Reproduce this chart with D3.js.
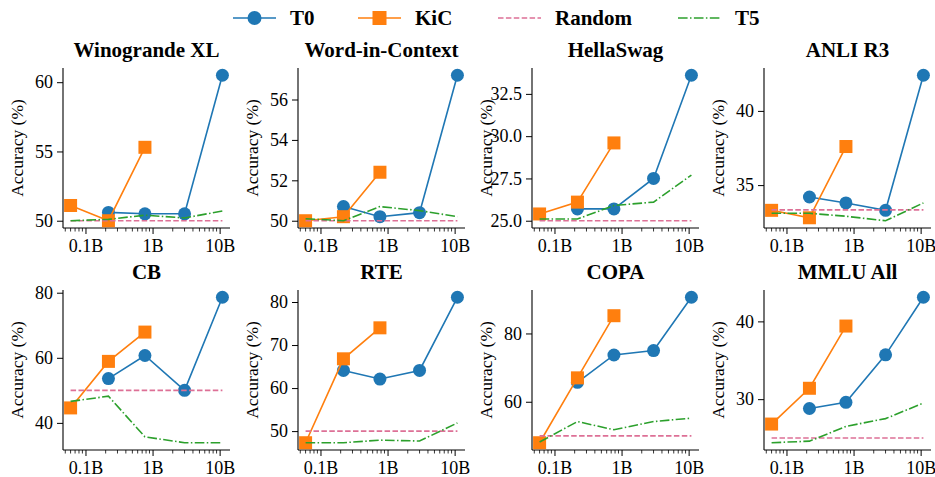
<!DOCTYPE html>
<html lang="en">
<head>
  <meta charset="UTF-8">
  <title>Accuracy vs model size</title>
  <script src="https://d3js.org/d3.v7.min.js"></script>
  <style>
    body { margin: 0; background: #fff; }
    svg text { font-family: "Liberation Serif", "Times New Roman", Times, "DejaVu Serif", serif; fill: #000; }
  </style>
</head>
<body>
  <svg id="chart"></svg>
  <script>
    // model sizes in billions of parameters
    const sizes = [0.06, 0.22, 0.77, 3, 11];
    const tasks = ["Winogrande XL", "Word-in-Context", "HellaSwag", "ANLI R3",
                   "CB", "RTE", "COPA", "MMLU All"];

    // T0 has no 0.06B model -> null
    const t0Scores = [
      [null, 50.6, 50.5, 50.5, 60.5],
      [null, 50.7, 50.2, 50.4, 57.2],
      [null, 25.7, 25.7, 27.5, 33.6],
      [null, 34.2, 33.8, 33.3, 42.4],
      [null, 53.6, 60.7, 50.0, 78.6],
      [null, 64.1, 62.1, 64.1, 81.1],
      [null, 65.7, 73.7, 75.0, 90.6],
      [null, 28.8, 29.6, 35.7, 43.1]
    ];
    const kicScores = [
      [51.1, 50.0, 55.3],
      [50.0, 50.2, 52.4],
      [25.4, 26.1, 29.6],
      [33.3, 32.8, 37.6],
      [44.6, 58.9, 67.9],
      [47.3, 66.8, 74.0],
      [48.0, 67.0, 85.2],
      [26.8, 31.4, 39.4]
    ];
    const t5Scores = [
      [50.0, 50.1, 50.4, 50.2, 50.7],
      [50.1, 50.0, 50.7, 50.5, 50.2],
      [25.1, 25.1, 25.9, 26.1, 27.7],
      [33.1, 33.1, 32.9, 32.6, 33.8],
      [46.6, 48.2, 35.7, 33.9, 33.9],
      [47.3, 47.3, 47.9, 47.7, 51.9],
      [48.2, 54.2, 51.8, 54.2, 55.2],
      [24.4, 24.6, 26.5, 27.5, 29.5]
    ];
    const randomScores = [50, 50, 25, 33.33, 50, 50, 50, 25];

    const yTicks = [
      [50, 55, 60],
      [50, 52, 54, 56],
      [25, 27.5, 30, 32.5],
      [35, 40],
      [40, 60, 80],
      [50, 60, 70, 80],
      [60, 80],
      [30, 40]
    ];
    const xTicks = [0.1, 1, 10];
    const xTickLabels = ["0.1B", "1B", "10B"];

    const colors = { t0: "#1f77b4", kic: "#ff7f0e", random: "#dd7096", t5: "#2ca02c" };
    const serif = "'Liberation Serif', 'Times New Roman', Times, 'DejaVu Serif', serif";

    const W = 935, H = 477;
    const colLeft = [63, 298, 532, 764];
    const rowTop = [68, 290];
    const pw = 167, ph = 160;

    const svg = d3.select("#chart").attr("width", W).attr("height", H)
      .attr("font-family", serif);

    // matplotlib style 5% margins in log space
    const lx = d3.extent(sizes).map(Math.log10);
    const padX = (lx[1] - lx[0]) * 0.05;
    const xDomain = [Math.pow(10, lx[0] - padX), Math.pow(10, lx[1] + padX)];

    const minorTicks = [];
    for (let e = -2; e <= 1; e++) {
      for (let m = 2; m <= 9; m++) {
        const v = m * Math.pow(10, e);
        if (v >= xDomain[0] && v <= xDomain[1]) minorTicks.push(v);
      }
    }

    tasks.forEach((task, i) => {
      const col = i % 4, row = Math.floor(i / 4);
      const g = svg.append("g")
        .attr("transform", `translate(${colLeft[col]},${rowTop[row]})`);

      const x = d3.scaleLog().domain(xDomain).range([0, pw]);

      const allVals = [...t0Scores[i], ...kicScores[i], ...t5Scores[i], randomScores[i]]
        .filter(v => v != null);
      const [lo, hi] = d3.extent(allVals);
      const padY = (hi - lo) * 0.05;
      const y = d3.scaleLinear().domain([lo - padY, hi + padY]).range([ph, 0]);

      // axes
      const decimals = yTicks[i].some(v => !Number.isInteger(v)) ? ".1f" : "d";
      const yAxis = d3.axisLeft(y).tickValues(yTicks[i])
        .tickFormat(d3.format(decimals)).tickSize(6).tickPadding(4);
      const yg = g.append("g").call(yAxis);
      yg.select(".domain").attr("d", `M0,0V${ph}`);

      const xAxis = d3.axisBottom(x).tickValues(xTicks)
        .tickFormat((d, k) => xTickLabels[k]).tickSize(6).tickPadding(5);
      const xg = g.append("g").attr("transform", `translate(0,${ph})`).call(xAxis);
      xg.select(".domain").attr("d", `M0,0H${pw}`);

      g.append("g").attr("transform", `translate(0,${ph})`)
        .selectAll("line").data(minorTicks).join("line")
        .attr("x1", d => x(d)).attr("x2", d => x(d))
        .attr("y1", 0).attr("y2", 3.5)
        .attr("stroke", "#000").attr("stroke-width", 0.8);

      g.selectAll("g").attr("font-family", serif);
      g.selectAll(".domain").attr("stroke", "#000").attr("stroke-width", 1.1);
      g.selectAll(".tick line").attr("stroke", "#000").attr("stroke-width", 1);
      g.selectAll(".tick text").attr("font-size", 18);

      // labels
      g.append("text")
        .attr("x", pw / 2).attr("y", -11)
        .attr("text-anchor", "middle")
        .attr("font-size", 21).attr("font-weight", "bold")
        .text(task);
      g.append("text")
        .attr("transform", `translate(${-44},${ph / 2}) rotate(-90)`)
        .attr("text-anchor", "middle")
        .attr("dominant-baseline", "middle")
        .attr("font-size", 17.5)
        .text("Accuracy (%)");

      const line = d3.line()
        .x(d => x(d[0])).y(d => y(d[1]));

      // T0
      const t0 = sizes.map((s, k) => [s, t0Scores[i][k]]).filter(d => d[1] != null);
      g.append("path").datum(t0).attr("d", line)
        .attr("fill", "none").attr("stroke", colors.t0).attr("stroke-width", 1.6);
      g.selectAll(".t0pt").data(t0).join("circle")
        .attr("cx", d => x(d[0])).attr("cy", d => y(d[1])).attr("r", 6.5)
        .attr("fill", colors.t0);

      // KiC
      const kic = kicScores[i].map((v, k) => [sizes[k], v]);
      g.append("path").datum(kic).attr("d", line)
        .attr("fill", "none").attr("stroke", colors.kic).attr("stroke-width", 1.6);
      g.selectAll(".kicpt").data(kic).join("rect")
        .attr("x", d => x(d[0]) - 6.5).attr("y", d => y(d[1]) - 6.5)
        .attr("width", 13).attr("height", 13)
        .attr("fill", colors.kic);

      // Random
      g.append("line")
        .attr("x1", x(sizes[0])).attr("x2", x(sizes[sizes.length - 1]))
        .attr("y1", y(randomScores[i])).attr("y2", y(randomScores[i]))
        .attr("stroke", colors.random).attr("stroke-width", 1.6)
        .attr("stroke-dasharray", "5.5,2.4");

      // T5
      const t5 = t5Scores[i].map((v, k) => [sizes[k], v]);
      g.append("path").datum(t5).attr("d", line)
        .attr("fill", "none").attr("stroke", colors.t5).attr("stroke-width", 1.6)
        .attr("stroke-dasharray", "9.6,2.4,1.5,2.4");
    });

    // legend
    const legendItems = [
      { name: "T0", color: colors.t0, x: 233, marker: "circle", dash: null },
      { name: "KiC", color: colors.kic, x: 358, marker: "square", dash: null },
      { name: "Random", color: colors.random, x: 498, marker: null, dash: "5.5,2.4" },
      { name: "T5", color: colors.t5, x: 678, marker: null, dash: "9.6,2.4,1.5,2.4" }
    ];
    const ly = 18;
    const leg = svg.append("g");
    legendItems.forEach(it => {
      leg.append("line")
        .attr("x1", it.x).attr("x2", it.x + 43).attr("y1", ly).attr("y2", ly)
        .attr("stroke", it.color).attr("stroke-width", 1.6)
        .attr("stroke-dasharray", it.dash);
      if (it.marker === "circle") {
        leg.append("circle").attr("cx", it.x + 21.5).attr("cy", ly).attr("r", 7)
          .attr("fill", it.color);
      } else if (it.marker === "square") {
        leg.append("rect").attr("x", it.x + 21.5 - 7).attr("y", ly - 7)
          .attr("width", 14).attr("height", 14).attr("fill", it.color);
      }
      leg.append("text")
        .attr("x", it.x + 57).attr("y", ly + 7)
        .attr("font-size", 21).attr("font-weight", "bold")
        .text(it.name);
    });
  </script>
</body>
</html>
